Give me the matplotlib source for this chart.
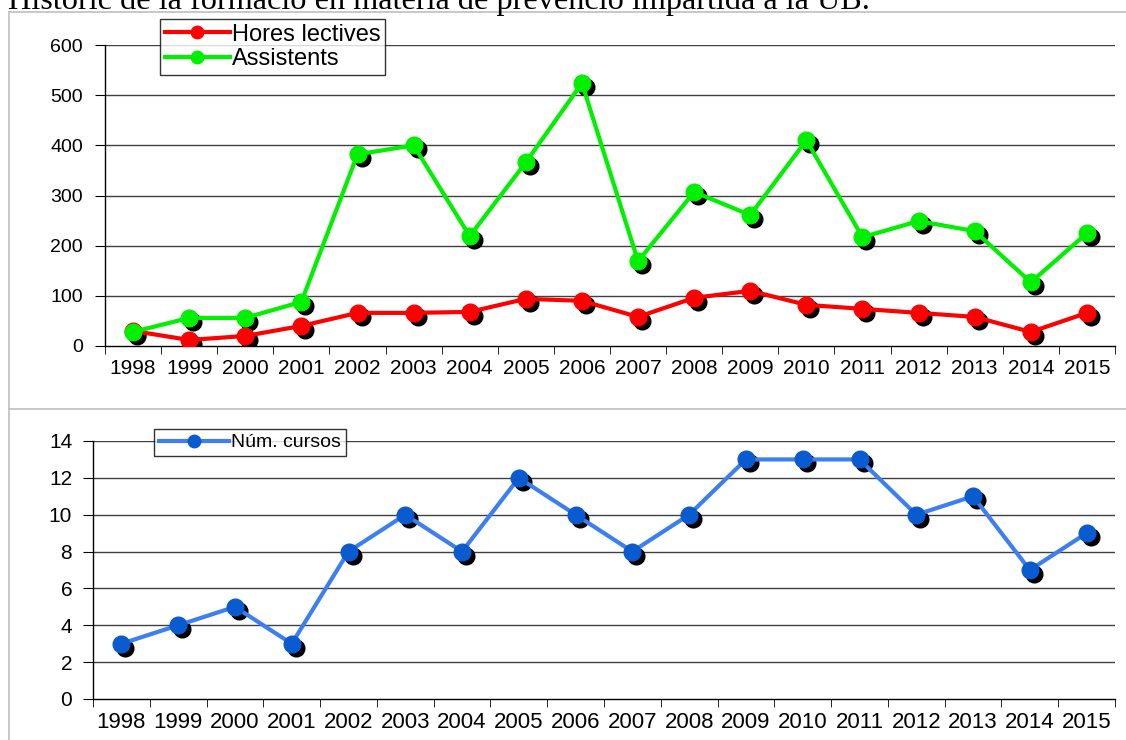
import numpy as np
import matplotlib.pyplot as plt
import matplotlib.transforms as mtransforms
from matplotlib.lines import Line2D

plt.rcParams['font.family'] = ['Liberation Sans', 'DejaVu Sans']

anys = ['1998', '1999', '2000', '2001', '2002', '2003', '2004', '2005', '2006',
        '2007', '2008', '2009', '2010', '2011', '2012', '2013', '2014', '2015']
hores = [30, 12, 20, 40, 66, 66, 68, 94, 90, 58, 96, 110, 82, 74, 66, 58, 28, 66]
assistents = [28, 56, 56, 88, 382, 400, 219, 366, 524, 169, 307, 261, 410, 217, 249, 229, 127, 225]
cursos = [3, 4, 5, 3, 8, 10, 8, 12, 10, 8, 10, 13, 13, 13, 10, 11, 7, 9]

W, H = 1126, 740
fig = plt.figure(figsize=(W / 100, H / 100), dpi=100)

def px_axes(x0, y0, x1, y1):
    # caixa en pixels (origen a dalt a l'esquerra) -> fraccio de figura
    return fig.add_axes([x0 / W, 1 - y1 / H, (x1 - x0) / W, (y1 - y0) / H])

# marcs grisos dels dos grafics
frame = fig.add_axes([0, 0, 1, 1], zorder=-5)
frame.set_xlim(0, W)
frame.set_ylim(H, 0)
frame.axis('off')
frame.plot([8.5, 8.5], [12, H], color='#bfbfbf', lw=1.2)
frame.plot([8.5, W], [12, 12], color='#bfbfbf', lw=1.2)
frame.plot([8.5, W], [409, 409], color='#bfbfbf', lw=1.2)

fig.text(8 / W, 1 - 9 / H, 'Històric de la formació en matèria de prevenció impartida a la UB.',
         family='Liberation Serif', fontsize=23.2, va='baseline', ha='left')

x = np.arange(len(anys))
shadow = lambda ax: ax.transData + mtransforms.ScaledTranslation(4 / 100, -4 / 100, fig.dpi_scale_trans)


def style(ax, ymax, step, xsize, ysize, ypad):
    ax.set_xlim(-0.5, len(anys) - 0.5)
    ax.set_ylim(0, ymax)
    ax.set_yticks(np.arange(0, ymax + 1, step))
    for s in ['top', 'right']:
        ax.spines[s].set_visible(False)
    for s in ['left', 'bottom']:
        ax.spines[s].set_linewidth(1)
    ax.set_xticks(x)
    ax.set_xticklabels(anys)
    ax.set_xticks(np.arange(-0.5, len(anys)), minor=True)
    ax.tick_params(axis='x', which='major', length=0, pad=9, labelsize=xsize)
    ax.tick_params(axis='x', which='minor', length=6, direction='out')
    ax.tick_params(axis='y', length=7, direction='out', labelsize=ysize, pad=ypad)
    for v in np.arange(step, ymax + 1, step):
        ax.axhline(v, color='#404040', lw=1, zorder=0)
    ax.patch.set_alpha(0)


def serie(ax, y, color, mcolor=None):
    ax.plot(x, y, 'o', color='black', ms=12, transform=shadow(ax), zorder=2)
    mcolor = mcolor or color
    ax.plot(x, y, '-o', color=color, lw=3, ms=12, zorder=3,
            markerfacecolor=mcolor, markeredgecolor=mcolor)


ax1 = px_axes(105, 45, 1115, 346)
style(ax1, 600, 100, 15, 14, 9)
serie(ax1, hores, '#ff0000')
serie(ax1, assistents, '#00f000')
h1 = [Line2D([], [], color='#ff0000', lw=3, marker='o', ms=9),
      Line2D([], [], color='#00f000', lw=3, marker='o', ms=9)]
leg1 = ax1.legend(h1, ['Hores lectives', 'Assistents'], loc='upper left',
                  bbox_to_anchor=(55 / 1010, 1 + 26 / 301), fontsize=17, frameon=True,
                  fancybox=False, edgecolor='black', handlelength=2.75, handletextpad=0.1,
                  borderpad=0.2, labelspacing=0.1, borderaxespad=0)
leg1.get_frame().set_linewidth(1)

ax2 = px_axes(93, 441, 1115, 699)
style(ax2, 14, 2, 16, 15, 8)
serie(ax2, cursos, '#3d7ef0', '#0a5ad0')
h2 = [Line2D([], [], color='#3d7ef0', lw=3, marker='o', ms=9,
             markerfacecolor='#0a5ad0', markeredgecolor='#0a5ad0')]
leg2 = ax2.legend(h2, ['Núm. cursos'], loc='upper left',
                  bbox_to_anchor=(61 / 1022, 1 + 12 / 258), fontsize=14, frameon=True,
                  fancybox=False, edgecolor='black', handlelength=3.6, handletextpad=0.1,
                  borderpad=0.25, borderaxespad=0)
leg2.get_frame().set_linewidth(1)

fig.savefig('out.png', dpi=100)
